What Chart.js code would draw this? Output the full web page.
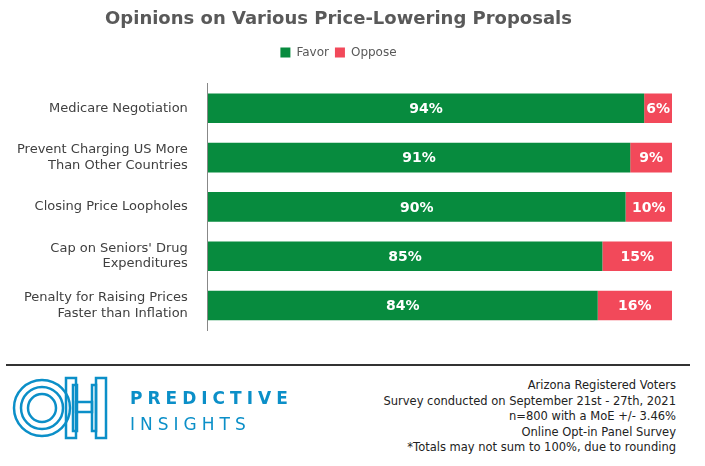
<!DOCTYPE html>
<html><head><meta charset="utf-8">
<script src="https://cdn.jsdelivr.net/npm/chart.js@4"></script>
<style>
body{margin:0;background:#fff;font-family:"DejaVu Sans",sans-serif;}
#wrap{position:relative;width:705px;height:466px;}
#c{position:absolute;left:0;top:0;}
#rule{position:absolute;left:6px;top:364px;width:684px;height:2px;background:#333;}
#logo{position:absolute;left:0;top:370px;}
#note{position:absolute;right:29px;top:378px;text-align:right;font-size:11.5px;line-height:15.5px;color:#222;}
</style></head><body>
<div id="wrap">
<canvas id="c" width="705" height="350"></canvas>
<div id="rule"></div>
<canvas id="logo" width="300" height="80"></canvas>
<div id="note">Arizona Registered Voters<br>Survey conducted on September 21st - 27th, 2021<br>n=800 with a MoE +/- 3.46%<br>Online Opt-in Panel Survey<br>*Totals may not sum to 100%, due to rounding</div>
</div>
<script>
var categories = [['Medicare Negotiation'], ['Prevent Charging US More', 'Than Other Countries'], ['Closing Price Loopholes'], ["Cap on Seniors' Drug", 'Expenditures'], ['Penalty for Raising Prices', 'Faster than Inflation']];
var favor = [94, 91, 90, 85, 84];
var oppose = [6, 9, 10, 15, 16];

var labelPlugin = {
    id: 'barLabels',
    afterDatasetsDraw: function (chart) {
        var ctx = chart.ctx;
        ctx.save();
        ctx.fillStyle = '#fff';
        ctx.font = 'bold 14px "DejaVu Sans"';
        ctx.textAlign = 'center';
        ctx.textBaseline = 'middle';
        chart.data.datasets.forEach(function (ds, i) {
            chart.getDatasetMeta(i).data.forEach(function (bar, j) {
                ctx.fillText(ds.data[j] + '%', (bar.base + bar.x) / 2, bar.y + 1);
            });
        });
        ctx.restore();
    }
};

// extra gap under the legend
var legendGap = {
    id: 'legendGap',
    beforeInit: function (chart) {
        var fit = chart.legend.fit;
        chart.legend.fit = function () {
            fit.bind(chart.legend)();
            this.height += 15;
        };
    }
};

new Chart(document.getElementById('c'), {
    type: 'bar',
    data: {
        labels: categories,
        datasets: [
            { label: 'Favor', data: favor, backgroundColor: '#078B3E', barPercentage: 0.6, categoryPercentage: 1 },
            { label: 'Oppose', data: oppose, backgroundColor: '#F2495A', barPercentage: 0.6, categoryPercentage: 1 }
        ]
    },
    options: {
        indexAxis: 'y',
        responsive: false,
        animation: false,
        layout: { padding: { left: 5, right: 33, bottom: 8 } },
        plugins: {
            title: { display: true, text: 'Opinions on Various Price-Lowering Proposals', color: '#595959', font: { family: 'DejaVu Sans', size: 18, weight: 'bold' }, padding: { top: 9, bottom: 10 } },
            legend: { labels: { boxWidth: 10, boxHeight: 10, color: '#595959', font: { family: 'DejaVu Sans', size: 12 }, padding: 6 } },
            tooltip: { enabled: false }
        },
        scales: {
            x: { stacked: true, min: 0, max: 100, display: false },
            y: {
                stacked: true,
                grid: { display: false },
                border: { color: '#888' },
                ticks: { color: '#404040', font: { family: 'DejaVu Sans', size: 13 }, padding: 12 }
            }
        }
    },
    plugins: [labelPlugin, legendGap]
});

// logo
var g = document.getElementById('logo').getContext('2d');
var blue = '#0B8FC8';
g.strokeStyle = blue; g.lineWidth = 2.5;
[28, 21, 14].forEach(function (r) { g.beginPath(); g.arc(42, 38, r, 0, Math.PI * 2); g.stroke(); });
[[66, 8, 10, 60], [73, 15, 4, 46], [96, 8, 10, 60], [92, 15, 4, 46]].forEach(function (r) { g.strokeRect(r[0], r[1], r[2], r[3]); });
g.strokeRect(76, 32, 16, 10);
g.fillStyle = blue;
g.font = 'bold 17px "DejaVu Sans"';
g.letterSpacing = '5px';
g.fillText('PREDICTIVE', 130, 34);
g.font = '17px "DejaVu Sans"';
g.fillText('INSIGHTS', 130, 60);
</script>
</body></html>
